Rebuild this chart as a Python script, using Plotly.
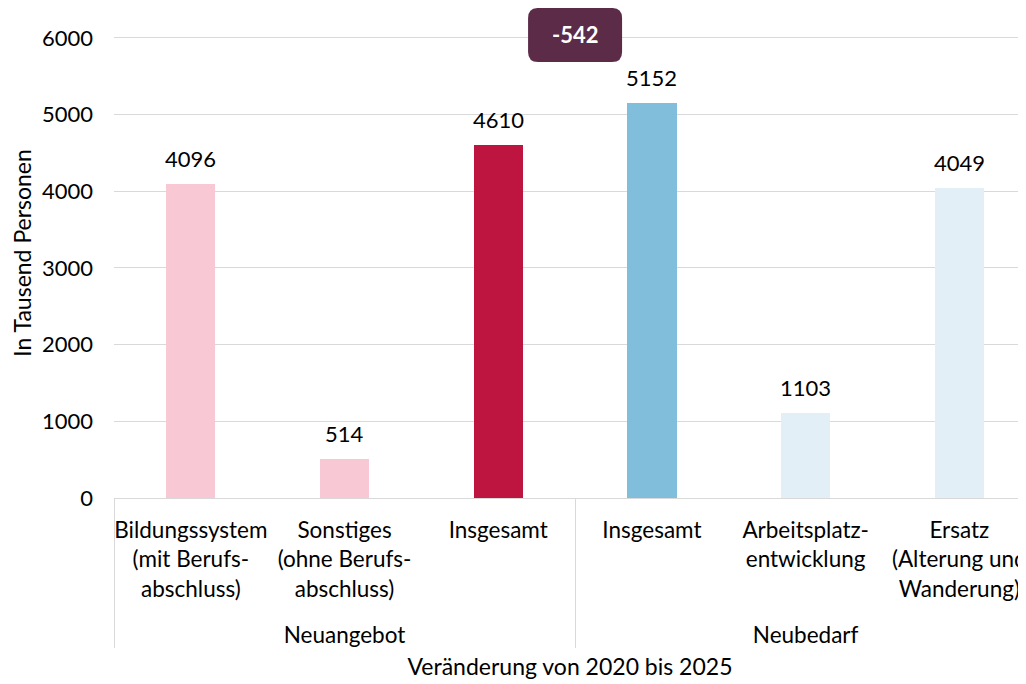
import plotly.graph_objects as go

groups = ["Neuangebot", "Neuangebot", "Neuangebot", "Neubedarf", "Neubedarf", "Neubedarf"]
labels = [
    "Bildungssystem<br>(mit Berufs-<br>abschluss)",
    "Sonstiges<br>(ohne Berufs-<br>abschluss)",
    "Insgesamt",
    "Insgesamt",
    "Arbeitsplatz-<br>entwicklung",
    "Ersatz<br>(Alterung und<br>Wanderung)",
]
values = [4096, 514, 4610, 5152, 1103, 4049]
colors = ["#F8C8D4", "#F8C8D4", "#BE1540", "#80BEDB", "#E3EFF7", "#E3EFF7"]
y_ticks = [0, 1000, 2000, 3000, 4000, 5000, 6000]
diff_value = values[2] - values[3]  # -542

FONT = "Lato"
FS_NUM = 22
FS_TXT = 22.5
FS_TITLE = 23

# page has an 8px body margin, so the figure is sized to fit the visible window
W, H = 1018, 676
x_range = [-0.5, 5.434]
y_range = [0, 6391]

# a trailing blank line pushes the group row (Neuangebot / Neubedarf) lower, as in the reference
tick_labels = [lab + "<br> " for lab in labels]

fig = go.Figure()
fig.add_trace(go.Bar(
    x=[groups, tick_labels],
    y=values,
    marker=dict(color=colors, line=dict(width=0)),
    width=0.32,
    hoverinfo="skip",
))

for i, v in enumerate(values):
    fig.add_annotation(
        x=i, y=v, xref="x", yref="y", text=str(v), showarrow=False,
        yanchor="bottom", yshift=10, font=dict(family=FONT, size=FS_NUM, color="#000000"),
    )

# difference badge
bx = (2.5 - x_range[0]) / (x_range[1] - x_range[0])
by = 6039 / y_range[1]
w2, h2, r = 47, 27, 10
path = (f"M {-w2 + r},{-h2} L {w2 - r},{-h2} Q {w2},{-h2} {w2},{-h2 + r} "
        f"L {w2},{h2 - r} Q {w2},{h2} {w2 - r},{h2} L {-w2 + r},{h2} "
        f"Q {-w2},{h2} {-w2},{h2 - r} L {-w2},{-h2 + r} Q {-w2},{-h2} {-w2 + r},{-h2} Z")
fig.add_shape(
    type="path", xref="paper", yref="paper", xsizemode="pixel", ysizemode="pixel",
    xanchor=bx, yanchor=by, path=path, fillcolor="#5C2B48", line=dict(width=0), layer="above",
)
fig.add_annotation(
    x=bx, y=by, xref="paper", yref="paper", text=f"<b>{diff_value}</b>", showarrow=False,
    font=dict(family=FONT, size=FS_NUM, color="#FFFFFF"), xanchor="center", yanchor="middle",
)

fig.update_layout(
    width=W, height=H,
    margin=dict(l=106, r=0, t=0, b=186),
    paper_bgcolor="white", plot_bgcolor="white",
    font=dict(family=FONT, size=FS_TXT, color="#000000"),
    showlegend=False,
    bargap=0,
)
fig.update_xaxes(
    type="multicategory", range=x_range, automargin=False, tickangle=0,
    showline=True, linecolor="#D9D9D9", linewidth=1,
    showdividers=True, dividercolor="#D9D9D9", dividerwidth=1,
    ticks="", ticklabelstandoff=12,
    tickfont=dict(family=FONT, size=FS_TXT, color="#000000"),
    title=dict(text="Veränderung von 2020 bis 2025", font=dict(family=FONT, size=FS_TITLE), standoff=12),
    showgrid=False,
)
fig.update_yaxes(
    range=y_range, tickvals=y_ticks, ticktext=[str(t) for t in y_ticks],
    automargin=False,
    showgrid=True, gridcolor="#D9D9D9", gridwidth=1, zeroline=False,
    showline=False, ticks="", ticklabelstandoff=20,
    tickfont=dict(family=FONT, size=FS_NUM, color="#000000"),
    title=dict(text="In Tausend Personen", font=dict(family=FONT, size=FS_TITLE), standoff=12),
)

fig.write_html("out.html")
